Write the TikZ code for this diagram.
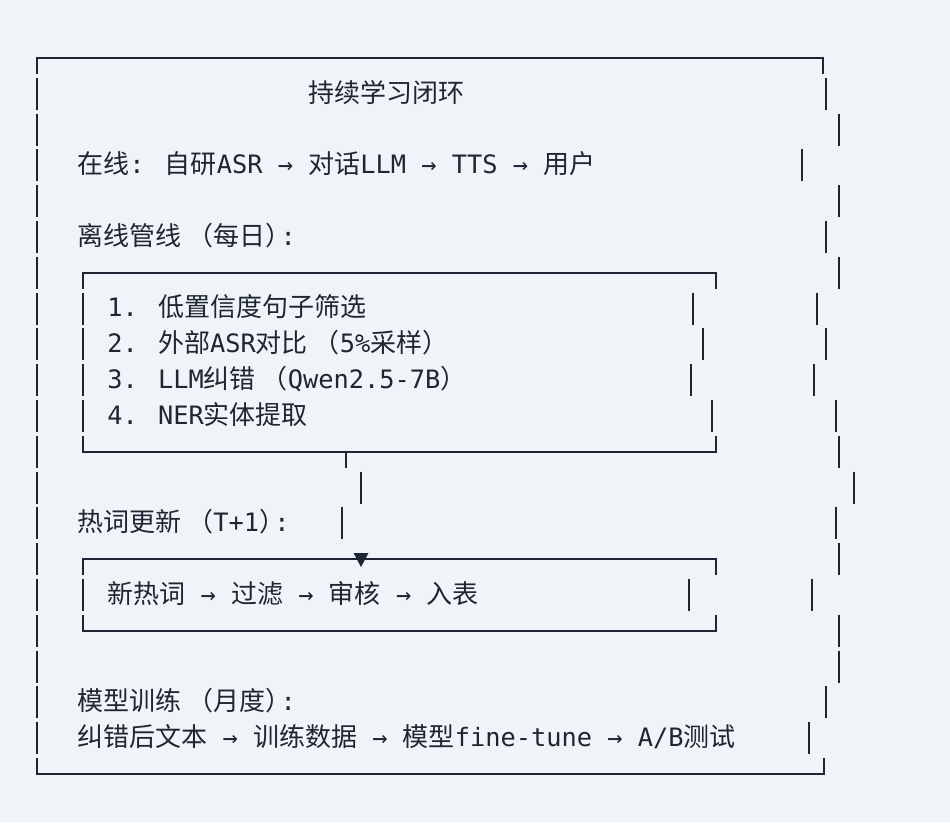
\documentclass[tikz,border=0pt]{standalone}
\usepackage{fontspec}
\setmainfont{DejaVu Sans Mono}
\newfontfamily\cjkf{Noto Sans CJK SC}
\newcommand\C[1]{{\cjkf\fontsize{19.5}{22}\selectfont #1}}
\newcommand\PO{\kern4.5pt\C{（}}
\newcommand\PCc{\C{）}\kern-8pt}
\definecolor{bgc}{RGB}{240,244,249}
\definecolor{ink}{RGB}{30,37,51}
\begin{document}
\begin{tikzpicture}[x=0.75pt,y=-0.75pt]
\tikzset{
  bar/.style={draw=ink, line width=1.6pt},
  txt/.style={anchor=base west, inner sep=0pt, text=ink, font=\fontsize{19}{22}\selectfont}
}
\fill[bgc] (0,0) rectangle (950,822);
\useasboundingbox (0,0) rectangle (950,822);

% outer frame
\draw[bar] (37,74) -- (37,58) -- (823,58) -- (823,74);
\draw[bar] (37,758) -- (37,774) -- (824,774) -- (824,758);
\foreach \k in {1,...,19}
  \draw[bar] (37,{58+35.8*\k-16}) -- (37,{58+35.8*\k+16});
\foreach \k/\x in {1/826,2/839,3/802,4/839,5/826,6/839,7/817,8/826,9/814,10/836,11/839,12/854,13/836,14/839,15/812,16/839,17/839,18/826,19/809}
  \draw[bar] (\x,{58+35.8*\k-16}) -- (\x,{58+35.8*\k+16});

% offline box
\draw[bar] (83,288.8) -- (83,272.8) -- (716,272.8) -- (716,288.8);
\draw[bar] (83,435.8) -- (83,451.8) -- (716,451.8) -- (716,435.8);
\foreach \k in {7,...,10}
  \draw[bar] (83,{58+35.8*\k-16}) -- (83,{58+35.8*\k+16});
\foreach \k/\x in {7/693,8/703,9/691,10/712}
  \draw[bar] (\x,{58+35.8*\k-16}) -- (\x,{58+35.8*\k+16});

% connector
\coordinate (tee) at (346,451.8);
\coordinate (teeend) at (346,467.8);
\coordinate (c1a) at (361,471.6);
\coordinate (c1b) at (361,503.6);
\coordinate (c2a) at (342,507.4);
\coordinate (c2b) at (342,539.4);
\draw[bar] (tee) -- (teeend);
\draw[bar] (c1a) -- (c1b);
\draw[bar] (c2a) -- (c2b);

% hotword box
\draw[bar] (83,575.2) -- (83,559.2) -- (716,559.2) -- (716,575.2);
\draw[bar] (83,614.8) -- (83,630.8) -- (716,630.8) -- (716,614.8);
\draw[bar] (83,579) -- (83,611);
\draw[bar] (689,579) -- (689,611);
\coordinate (tip) at (361,567);
\fill[ink] (353.5,553) -- (368.5,553) -- (tip) -- cycle;

% texts
\node[txt] (title) at (308,102) {\C{持续学习闭环}};
\node[txt] (online) at (77,173.4) {\C{在线}: \C{自研}ASR → \C{对话}LLM → TTS → \C{用户}};
\node[txt] (offline) at (77,245) {\C{离线管线}\PO\C{每日}\PCc:};
\node[txt] (s1) at (107,316.6) {1. \C{低置信度句子筛选}};
\node[txt] (s2) at (107,352.4) {2. \C{外部}ASR\C{对比}\PO 5\%\C{采样）}};
\node[txt] (s3) at (107,388.2) {3. LLM\C{纠错}\PO Qwen2.5-7B\C{）}};
\node[txt] (s4) at (107,424) {4. NER\C{实体提取}};
\node[txt] (hotlabel) at (77,531.4) {\C{热词更新}\PO T+1\PCc:};
\node[txt] (hot) at (107,603) {\C{新热词} → \C{过滤} → \C{审核} → \C{入表}};
\node[txt] (modellabel) at (77,710.4) {\C{模型训练}\PO\C{月度}\PCc:};
\node[txt] (model) at (77,746.2) {\C{纠错后文本} → \C{训练数据} → \C{模型}fine-tune → A/B\C{测试}};
\end{tikzpicture}
\end{document}
